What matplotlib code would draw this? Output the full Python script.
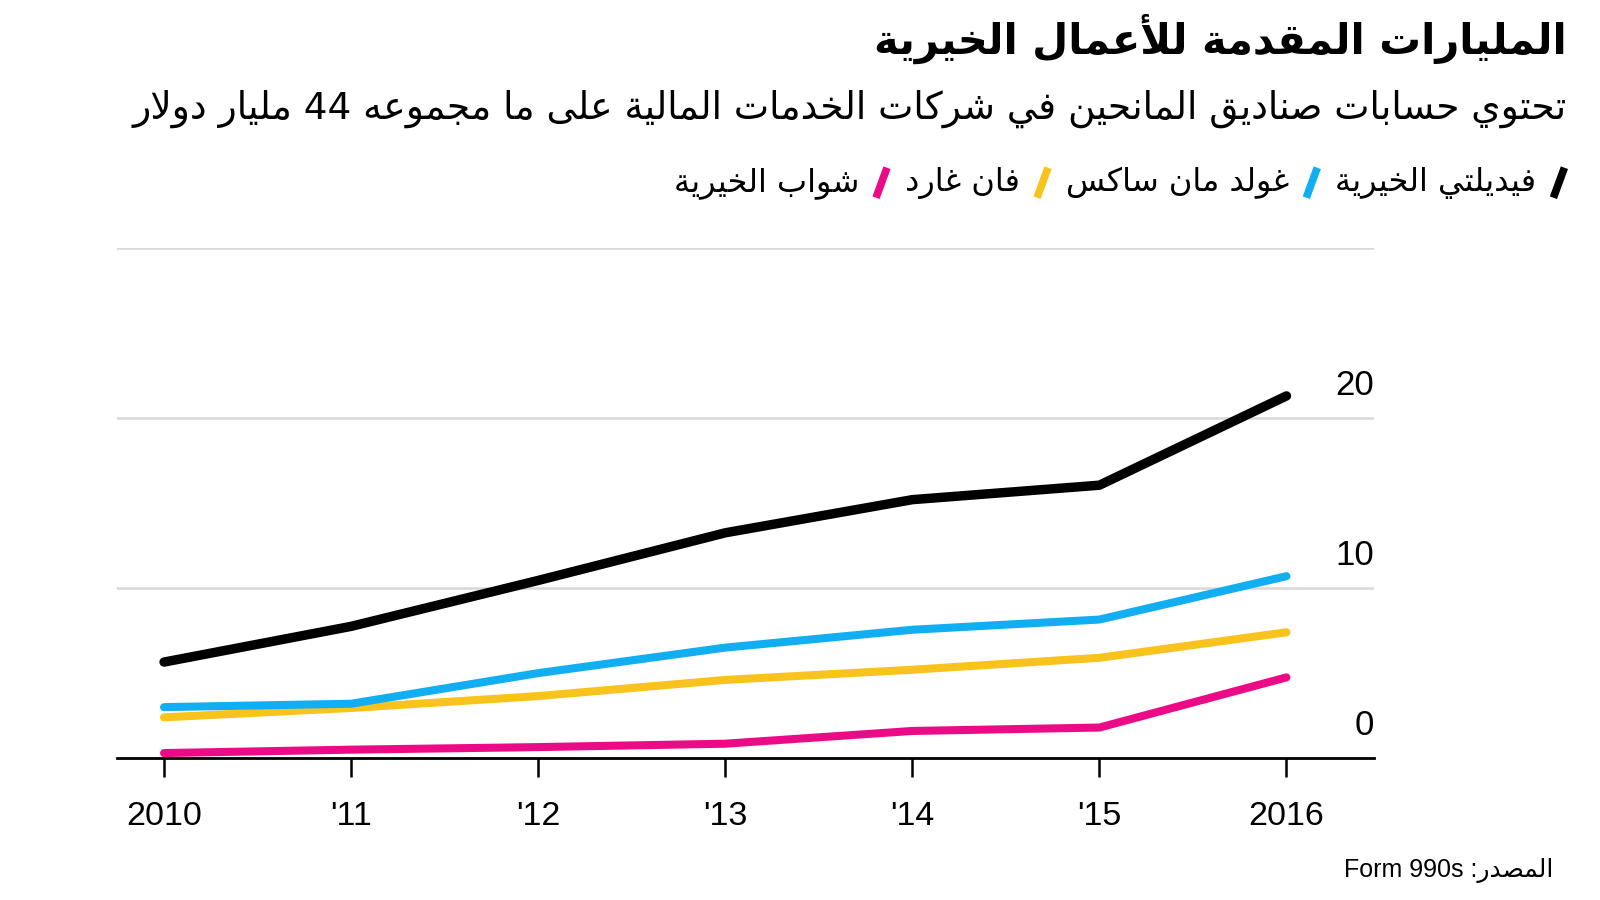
import re

import matplotlib
matplotlib.use("Agg")
import matplotlib.pyplot as plt
from matplotlib.lines import Line2D

# --- data (billions of dollars) ---
years = [2010, 2011, 2012, 2013, 2014, 2015, 2016]
year_labels = ["2010", "'11", "'12", "'13", "'14", "'15", "2016"]
fidelity = [5.65, 7.75, 10.45, 13.25, 15.2, 16.05, 21.3]
goldman = [3.0, 3.2, 5.0, 6.5, 7.55, 8.15, 10.7]
vanguard = [2.4, 2.95, 3.65, 4.6, 5.2, 5.9, 7.4]
schwab = [0.3, 0.5, 0.65, 0.85, 1.6, 1.8, 4.75]
y_ticks = [0, 10, 20]
grid_vals = [10, 20, 30]

names = ["فيديلتي الخيرية", "غولد مان ساكس", "فان غارد", "شواب الخيرية"]
colors = ["#000000", "#12aef2", "#f8c31c", "#ec0b87"]
series = [fidelity, goldman, vanguard, schwab]

TITLE = "المليارات المقدمة للأعمال الخيرية"
SUBTITLE = "تحتوي حسابات صناديق المانحين في شركات الخدمات المالية على ما مجموعه 44 مليار دولار"
SOURCE = "المصدر: Form 990s"

# --- minimal arabic shaping (matplotlib has no complex text layout) ---
FORMS = {
    "ء": (0xFE80, 1), "آ": (0xFE81, 2), "أ": (0xFE83, 2), "ؤ": (0xFE85, 2),
    "إ": (0xFE87, 2), "ئ": (0xFE89, 4), "ا": (0xFE8D, 2), "ب": (0xFE8F, 4),
    "ة": (0xFE93, 2), "ت": (0xFE95, 4), "ث": (0xFE99, 4), "ج": (0xFE9D, 4),
    "ح": (0xFEA1, 4), "خ": (0xFEA5, 4), "د": (0xFEA9, 2), "ذ": (0xFEAB, 2),
    "ر": (0xFEAD, 2), "ز": (0xFEAF, 2), "س": (0xFEB1, 4), "ش": (0xFEB5, 4),
    "ص": (0xFEB9, 4), "ض": (0xFEBD, 4), "ط": (0xFEC1, 4), "ظ": (0xFEC5, 4),
    "ع": (0xFEC9, 4), "غ": (0xFECD, 4), "ف": (0xFED1, 4), "ق": (0xFED5, 4),
    "ك": (0xFED9, 4), "ل": (0xFEDD, 4), "م": (0xFEE1, 4), "ن": (0xFEE5, 4),
    "ه": (0xFEE9, 4), "و": (0xFEED, 2), "ى": (0xFEEF, 2), "ي": (0xFEF1, 4),
}
LAMALEF = {"آ": 0xFEF5, "أ": 0xFEF7, "إ": 0xFEF9, "ا": 0xFEFB}


def dual(c):
    return c in FORMS and FORMS[c][1] == 4


def shape(s):
    out, i, n = [], 0, len(s)
    while i < n:
        c = s[i]
        if c not in FORMS:
            out.append(c); i += 1; continue
        jp = i > 0 and dual(s[i - 1])
        if c == "ل" and i + 1 < n and s[i + 1] in LAMALEF:
            out.append(chr(LAMALEF[s[i + 1]] + (1 if jp else 0))); i += 2; continue
        nxt = s[i + 1] if i + 1 < n else ""
        jn = dual(c) and nxt in FORMS and FORMS[nxt][1] >= 2
        start, k = FORMS[c]
        idx = 3 if (jp and jn) else 1 if jp else 2 if jn else 0
        if idx >= k:
            idx = 1 if (jp and k >= 2) else 0
        out.append(chr(start + idx)); i += 1
    return "".join(out)


def ar(s):
    parts = [p for p in re.split(r"([A-Za-z0-9][A-Za-z0-9 .]*[A-Za-z0-9]|[A-Za-z0-9])", s) if p]
    vis = [p if re.match(r"[A-Za-z0-9]", p) else shape(p)[::-1] for p in parts]
    return "".join(reversed(vis))


AR_FONT = ["DejaVu Sans"]
NUM_FONT = ["Liberation Sans", "DejaVu Sans"]

fig = plt.figure(figsize=(16, 9), dpi=100)
ax = fig.add_axes([0.0733, 0.1576, 0.7857, 0.5669])

for v in grid_vals:
    ax.axhline(v, color="#d8d8d8", lw=1.8, zorder=1)

for vals, col in reversed(list(zip(series, colors))):
    ax.plot(years, vals, color=col, lw=6.8 if col == "#000000" else 5.8,
            solid_capstyle="round", solid_joinstyle="round", zorder=3)

ax.set_xlim(2009.75, 2016.47)
ax.set_ylim(0, 30)
for s in ("top", "left", "right"):
    ax.spines[s].set_visible(False)
ax.spines["bottom"].set_linewidth(2)
ax.spines["bottom"].set_zorder(4)
ax.set_yticks([])
ax.set_xticks(years)
ax.set_xticklabels(year_labels, fontfamily=NUM_FONT, fontsize=24.5)
ax.tick_params(axis="x", length=14, width=1.8, pad=17, colors="black")

for v in y_ticks:
    ax.text(1.0, v + 1.9, str(v), transform=ax.get_yaxis_transform(),
            ha="right", va="center", fontsize=25, fontfamily=NUM_FONT)

fig.text(0.979, 0.957, ar(TITLE), ha="right", va="center", fontsize=30,
         fontweight="bold", fontfamily=AR_FONT)
fig.text(0.979, 0.879, ar(SUBTITLE), ha="right", va="center", fontsize=27,
         fontfamily=AR_FONT)
fig.text(0.9707, 0.033, ar(SOURCE), ha="right", va="center", fontsize=18,
         fontfamily=NUM_FONT)

# legend row laid out right to left
fig.canvas.draw()
r = fig.canvas.get_renderer()
W, H = fig.bbox.width, fig.bbox.height
x = 0.979 * W
ly = 0.797 * H
for name, col in zip(names, colors):
    fig.add_artist(Line2D([x - 13, x - 2], [ly - 15, ly + 15], transform=None,
                          color=col, lw=5.5, solid_capstyle="butt"))
    x -= 30
    t = fig.text(x / W, ly / H, ar(name), ha="right", va="center", fontsize=23,
                 fontfamily=AR_FONT)
    x -= t.get_window_extent(r).width + 16

fig.savefig("out.png", dpi=100)
